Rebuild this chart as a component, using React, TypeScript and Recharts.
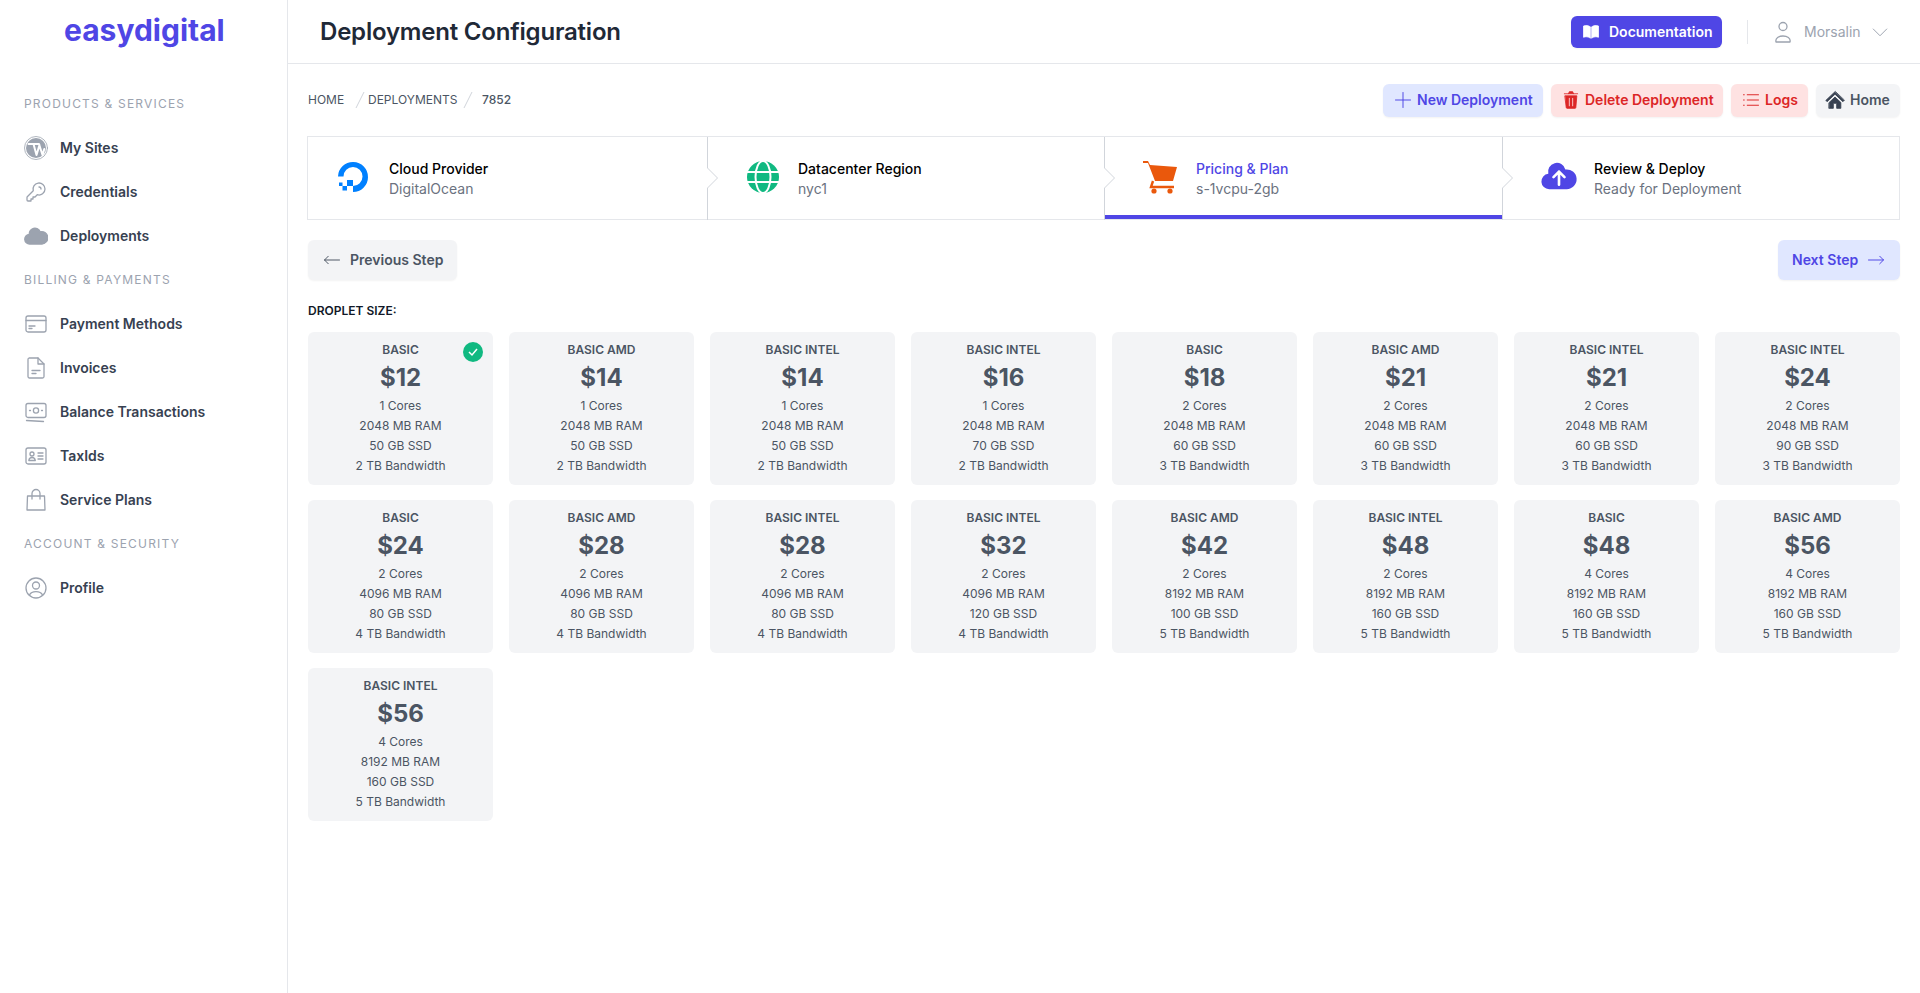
import { Scatter, ScatterChart, XAxis, YAxis } from "recharts";
import type { CSSProperties, ReactNode } from "react";

const PLANS = [
  "BASIC", "BASIC AMD", "BASIC INTEL", "BASIC INTEL", "BASIC", "BASIC AMD", "BASIC INTEL", "BASIC INTEL",
  "BASIC", "BASIC AMD", "BASIC INTEL", "BASIC INTEL", "BASIC AMD", "BASIC INTEL", "BASIC", "BASIC AMD",
  "BASIC INTEL",
];
const PRICES = [12, 14, 14, 16, 18, 21, 21, 24, 24, 28, 28, 32, 42, 48, 48, 56, 56];
const CORES = [1, 1, 1, 1, 2, 2, 2, 2, 2, 2, 2, 2, 2, 2, 4, 4, 4];
const RAM_MB = [2048, 2048, 2048, 2048, 2048, 2048, 2048, 2048, 4096, 4096, 4096, 4096, 8192, 8192, 8192, 8192, 8192];
const SSD_GB = [50, 50, 50, 70, 60, 60, 60, 90, 80, 80, 80, 120, 100, 160, 160, 160, 160];
const BANDWIDTH_TB = [2, 2, 2, 2, 3, 3, 3, 3, 4, 4, 4, 4, 5, 5, 5, 5, 5];
const SELECTED_PLAN = 0;
const PER_ROW = 8;

const FONT = "Inter, 'Noto Sans', sans-serif";
const INDIGO = "#4f46e5";

const cards = PRICES.map((price, i) => ({
  col: i % PER_ROW,
  row: Math.floor(i / PER_ROW),
  plan: PLANS[i],
  price,
  cores: CORES[i],
  ram: RAM_MB[i],
  ssd: SSD_GB[i],
  bandwidth: BANDWIDTH_TB[i],
  selected: i === SELECTED_PLAN,
}));

const PlanCard = (props: any) => {
  const { cx, cy, payload } = props;
  const specs = [
    `${payload.cores} Cores`,
    `${payload.ram} MB RAM`,
    `${payload.ssd} GB SSD`,
    `${payload.bandwidth} TB Bandwidth`,
  ];
  return (
    <g fontFamily={FONT} textAnchor="middle">
      <rect x={cx - 92.5} y={cy - 76} width={185} height={153} rx={6} fill="#f3f4f6" />
      <text x={cx} y={cy - 58} dy="0.36em" fontSize={12} fontWeight={600} fill="#4b5563">
        {payload.plan}
      </text>
      <text x={cx} y={cy - 31} dy="0.36em" fontSize={24} fontWeight={700} fill="#4b5563">
        ${payload.price}
      </text>
      {specs.map((s, i) => (
        <text key={s} x={cx} y={cy - 2 + i * 20} dy="0.36em" fontSize={12} fill="#4b5563">
          {s}
        </text>
      ))}
      {payload.selected && (
        <g>
          <circle cx={cx + 72.5} cy={cy - 56} r={10} fill="#10b981" />
          <path
            d={`M${cx + 68.5} ${cy - 56}l3 3l5 -6`}
            fill="none"
            stroke="#fff"
            strokeWidth={1.5}
          />
        </g>
      )}
    </g>
  );
};

const Txt = ({ x, y, size = 14, weight = 400, color = "#374151", spacing, children }: {
  x: number;
  y: number;
  size?: number;
  weight?: number;
  color?: string;
  spacing?: number;
  children: ReactNode;
}) => (
  <div
    style={{
      position: "absolute",
      left: x,
      top: y - 15,
      height: 30,
      lineHeight: "30px",
      fontSize: size,
      fontWeight: weight,
      color,
      letterSpacing: spacing,
      whiteSpace: "nowrap",
    }}
  >
    {children}
  </div>
);

const Box = ({ x, y, w, h, style }: { x: number; y: number; w: number; h: number; style?: CSSProperties }) => (
  <div style={{ position: "absolute", left: x, top: y, width: w, height: h, boxSizing: "border-box", ...style }} />
);

const Icon = ({ x, y, size = 24, view = 24, children, fill = "none", stroke = "#9ca3af", sw = 1.3 }: {
  x: number;
  y: number;
  size?: number;
  view?: number;
  children: ReactNode;
  fill?: string;
  stroke?: string;
  sw?: number;
}) => (
  <svg
    width={size}
    height={size}
    viewBox={`0 0 ${view} ${view}`}
    fill={fill}
    stroke={stroke}
    strokeWidth={sw}
    strokeLinecap="round"
    strokeLinejoin="round"
    style={{ position: "absolute", left: x, top: y - size / 2 }}
  >
    {children}
  </svg>
);

const CLOUD = "M5.5 16a3.5 3.5 0 01-.369-6.98 4 4 0 117.753-1.977A4.5 4.5 0 1113.5 16h-8z";

const NAV_ICONS: Record<string, ReactNode> = {
  "My Sites": (
    <>
      <circle cx="12" cy="12" r="11.5" fill="#fff" strokeWidth="0.8" />
      <circle cx="12" cy="12" r="10" fill="#9ca3af" stroke="none" />
      <path d="M4.5 8h5l3 11L15.5 9M9.5 8h5.5l3.5 11 1.8-6" stroke="#fff" strokeWidth="2" />
    </>
  ),
  Credentials: (
    <path d="M15 7a2 2 0 012 2m4 0a6 6 0 01-7.743 5.743L11 17H9v2H7v2H4a1 1 0 01-1-1v-2.586a1 1 0 01.293-.707l5.964-5.964A6 6 0 1121 9z" />
  ),
  Deployments: <path d="M5.8 20a4.8 4.8 0 01-.5-9.6 5.6 5.6 0 0110.8-2.6A6.2 6.2 0 1118 20H5.8z" fill="#9ca3af" />,
  "Payment Methods": (
    <>
      <rect x="2" y="4" width="20" height="16" rx="2" />
      <path d="M2 8.5h20M5 14h6M5 16.5h3" />
    </>
  ),
  Invoices: (
    <>
      <path d="M5 2h9l6 6v12.5a1.5 1.5 0 01-1.5 1.5h-13A1.5 1.5 0 014 20.5V3.5A1.5 1.5 0 015 2z" />
      <path d="M14 2v6h6M8 14.5h8M8 17.5h4" />
    </>
  ),
  "Balance Transactions": (
    <>
      <rect x="2" y="3.5" width="20" height="14" rx="2" />
      <circle cx="12" cy="10.5" r="2.6" />
      <path d="M5.5 10.5h1M17.5 10.5h1M2.5 20.5l17 1" />
    </>
  ),
  TaxIds: (
    <>
      <rect x="2" y="4" width="20" height="16" rx="2" />
      <circle cx="8" cy="10" r="2" />
      <path d="M4.8 16.5c.5-4 6-4 6.5 0zM14 9h5M14 12h5M14 15h5" />
    </>
  ),
  "Service Plans": (
    <>
      <path d="M3.5 8h17l.5 14H3z" />
      <path d="M8 11V5.5a4 4 0 018 0V11" />
    </>
  ),
  Profile: (
    <>
      <circle cx="12" cy="12" r="10" />
      <circle cx="12" cy="9.5" r="3.5" />
      <path d="M5.5 19c2-4.5 11-4.5 13 0" />
    </>
  ),
};

const SIDEBAR_HEADS: [string, number][] = [
  ["PRODUCTS & SERVICES", 104],
  ["BILLING & PAYMENTS", 280],
  ["ACCOUNT & SECURITY", 544],
];
const SIDEBAR_ITEMS: [string, number][] = [
  ["My Sites", 148],
  ["Credentials", 192],
  ["Deployments", 236],
  ["Payment Methods", 324],
  ["Invoices", 368],
  ["Balance Transactions", 412],
  ["TaxIds", 456],
  ["Service Plans", 500],
  ["Profile", 588],
];

const Divider = ({ x }: { x: number }) => (
  <svg width={14} height={83} style={{ position: "absolute", left: x, top: 137 }}>
    <path d="M0.5 0V31L10.5 41L0.5 51V83" fill="#fff" stroke="#d1d5db" strokeWidth={1} />
  </svg>
);

const Step = ({ x, title, sub, titleColor = "#000" }: { x: number; title: string; sub: string; titleColor?: string }) => (
  <>
    <Txt x={x} y={169} weight={500} color={titleColor}>{title}</Txt>
    <Txt x={x} y={189} color="#6b7280">{sub}</Txt>
  </>
);

const Button = ({ x, w, y = 84, h = 33, bg }: { x: number; w: number; y?: number; h?: number; bg: string }) => (
  <Box x={x} y={y} w={w} h={h} style={{ background: bg, borderRadius: 6, boxShadow: "0 1px 2px rgba(0,0,0,.05)" }} />
);

export default function App() {
  return (
    <div
      style={{
        position: "absolute",
        left: 0,
        top: 0,
        width: 1920,
        height: 993,
        overflow: "hidden",
        background: "#fff",
        fontFamily: FONT,
      }}
    >
      {/* sidebar */}
      <Box x={287} y={0} w={1} h={993} style={{ background: "#e5e7eb" }} />
      <Txt x={64} y={30} size={30} weight={700} color={INDIGO}>easydigital</Txt>
      {SIDEBAR_HEADS.map(([t, y]) => (
        <Txt key={t} x={24} y={y} size={12} color="#9ca3af" spacing={1.2}>{t}</Txt>
      ))}
      {SIDEBAR_ITEMS.map(([t, y]) => (
        <div key={t}>
          <Icon x={24} y={y}>{NAV_ICONS[t]}</Icon>
          <Txt x={60} y={y} weight={600}>{t}</Txt>
        </div>
      ))}

      {/* header */}
      <Box x={288} y={63} w={1632} h={1} style={{ background: "#e5e7eb" }} />
      <Txt x={320} y={32} size={24} weight={600} color="#1f2937" spacing={-0.2}>Deployment Configuration</Txt>
      <Button x={1571} y={16} w={151} h={32} bg={INDIGO} />
      <Icon x={1582} y={32} size={18} stroke="#fff" fill="#fff" sw={1}>
        <path d="M11 5C8 3 5 3 2 4v15c3-1 6-1 9 1zM13 5c3-2 6-2 9-1v15c-3-1-6-1-9 1z" />
      </Icon>
      <Txt x={1609} y={32} weight={600} color="#fff">Documentation</Txt>
      <Box x={1747} y={20} w={1} h={24} style={{ background: "#e5e7eb" }} />
      <Icon x={1771} y={32} size={24}>
        <circle cx="12" cy="6.5" r="4" />
        <path d="M5 22c-2-8 16-8 14 0z" />
      </Icon>
      <Txt x={1804} y={32} color="#9ca3af">Morsalin</Txt>
      <Icon x={1871} y={32} size={18}><path d="M3 8l9 9 9-9" /></Icon>

      {/* breadcrumb */}
      <Txt x={308} y={100} size={12} color="#4b5563">HOME</Txt>
      <Txt x={368} y={100} size={12} color="#4b5563">DEPLOYMENTS</Txt>
      <Txt x={482} y={100} size={12} weight={500} color="#4b5563">7852</Txt>
      <svg width={200} height={20} style={{ position: "absolute", left: 350, top: 90 }}>
        <path d="M14 2L6 18M122 2L114 18" stroke="#d1d5db" />
      </svg>

      {/* action buttons */}
      <Button x={1383} w={160} bg="#e0e7ff" />
      <Icon x={1394} y={100} size={18} stroke={INDIGO}><path d="M12 2v20M2 12h20" /></Icon>
      <Txt x={1417} y={100} weight={600} color={INDIGO}>New Deployment</Txt>
      <Button x={1551} w={172} bg="#fee2e2" />
      <Icon x={1561} y={100} size={20} stroke="#dc2626" fill="#dc2626" sw={1}>
        <path d="M5 7h14l-1.2 14a1 1 0 01-1 1H7.2a1 1 0 01-1-1zM4 4.5h16M9 4.5L10 2h4l1 2.5" />
        <path d="M10 10v9M14 10v9" stroke="#fee2e2" />
      </Icon>
      <Txt x={1585} y={100} weight={600} color="#dc2626">Delete Deployment</Txt>
      <Button x={1731} w={77} bg="#fee2e2" />
      <Icon x={1742} y={100} size={18} stroke="#dc2626"><path d="M7 5h15M7 12h15M7 19h15M2 5h1M2 12h1M2 19h1" /></Icon>
      <Txt x={1765} y={100} weight={600} color="#dc2626">Logs</Txt>
      <Button x={1816} w={84} bg="#f3f4f6" />
      <Icon x={1825} y={100} size={20} stroke="#374151" fill="#374151" sw={1}>
        <path d="M12 2L1 12.5l1.5 1.5L12 5l9.5 9 1.5-1.5zM5 15l7-6.5 7 6.5v7h-5v-6h-4v6H5z" />
      </Icon>
      <Txt x={1850} y={100} weight={600} color="#4b5563">Home</Txt>

      {/* stepper */}
      <Box x={307} y={136} w={1593} h={84} style={{ border: "1px solid #e5e7eb" }} />
      <Box x={1105} y={215} w={397} h={4} style={{ background: INDIGO }} />
      <Divider x={707} />
      <Divider x={1104} />
      <Divider x={1502} />
      <svg width={32} height={32} viewBox="0 0 32 32" style={{ position: "absolute", left: 337, top: 161 }}>
        <path d="M16 31V25a9.5 9.5 0 10-9.5-9.5H1A15 15 0 1116 31z" fill="#0080ff" />
        <path d="M16 25h-6v-6h6zM10 29.5H5.5V25H10zM5.5 25H2v-3.5h3.5z" fill="#0080ff" />
      </svg>
      <Step x={389} title="Cloud Provider" sub="DigitalOcean" />
      <svg width={34} height={34} viewBox="0 0 34 34" style={{ position: "absolute", left: 746, top: 160 }}>
        <circle cx="17" cy="17" r="16" fill="#10b981" />
        <ellipse cx="17" cy="17" rx="7.5" ry="16" fill="none" stroke="#fff" strokeWidth="2" />
        <path d="M1 12h32M1 22h32" stroke="#fff" strokeWidth="2" />
      </svg>
      <Step x={798} title="Datacenter Region" sub="nyc1" />
      <svg width={36} height={36} viewBox="0 0 36 36" style={{ position: "absolute", left: 1142, top: 159 }}>
        <path d="M1 2h5l2 4 27 2-4 14H13L6 4H1z" fill="#ea580c" />
        <path d="M11 22l-2 6h23" fill="none" stroke="#ea580c" strokeWidth="2.4" />
        <circle cx="12" cy="32" r="2.6" fill="#ea580c" />
        <circle cx="28" cy="32" r="2.6" fill="#ea580c" />
      </svg>
      <Step x={1196} title="Pricing & Plan" sub="s-1vcpu-2gb" titleColor={INDIGO} />
      <svg width={44} height={44} viewBox="0 0 20 20" style={{ position: "absolute", left: 1537, top: 154 }}>
        <path d={CLOUD} fill={INDIGO} />
        <path d="M10 14V8M7.5 10.5L10 8l2.5 2.5" fill="none" stroke="#fff" strokeWidth="1.2" strokeLinecap="round" strokeLinejoin="round" />
      </svg>
      <Step x={1594} title="Review & Deploy" sub="Ready for Deployment" />

      {/* previous / next */}
      <Button x={308} y={240} w={149} h={40} bg="#f3f4f6" />
      <Icon x={323} y={260} size={18} stroke="#4b5563"><path d="M22 12H2M7 7l-5 5 5 5" /></Icon>
      <Txt x={350} y={260} weight={600} color="#4b5563">Previous Step</Txt>
      <Button x={1778} y={240} w={122} h={40} bg="#e0e7ff" />
      <Txt x={1792} y={260} weight={600} color={INDIGO}>Next Step</Txt>
      <Icon x={1867} y={260} size={18} stroke={INDIGO}><path d="M2 12h20M17 7l5 5-5 5" /></Icon>

      <Txt x={308} y={311} size={12} weight={600} color="#111827">DROPLET SIZE:</Txt>

      <div style={{ position: "absolute", left: 300, top: 324 }}>
        <ScatterChart width={1608} height={504} margin={{ top: 0, right: 0, bottom: 0, left: 0 }}>
          <XAxis type="number" dataKey="col" domain={[-0.5, 7.5]} hide />
          <YAxis type="number" dataKey="row" domain={[-0.5, 2.5]} reversed hide />
          <Scatter data={cards} shape={PlanCard} isAnimationActive={false} />
        </ScatterChart>
      </div>
    </div>
  );
}
